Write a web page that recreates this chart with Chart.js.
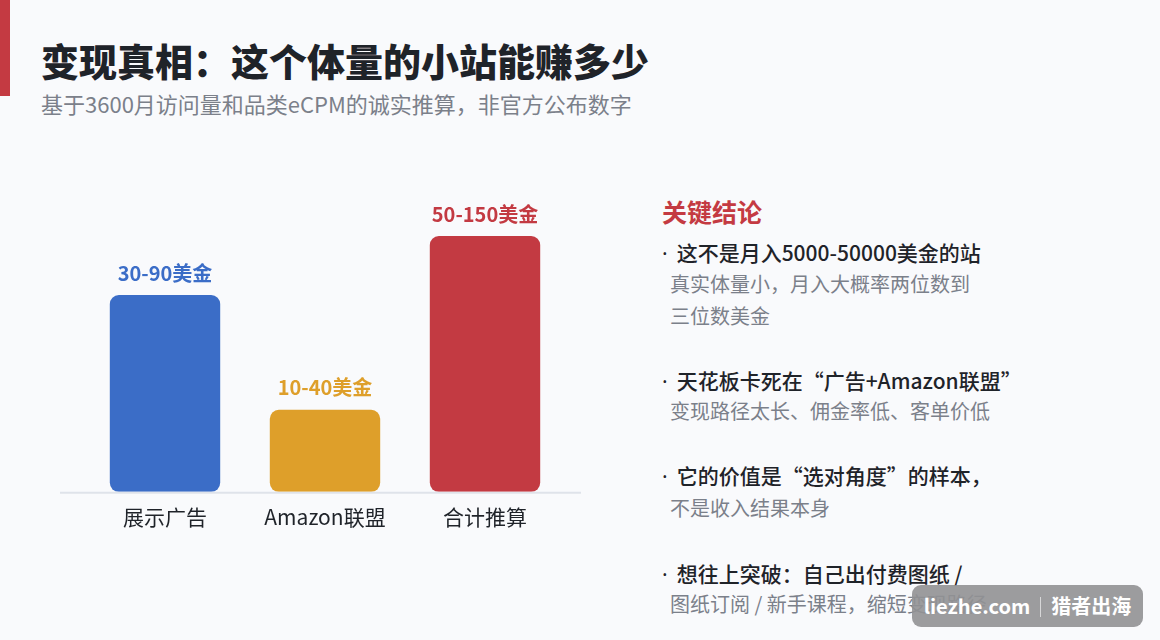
<!DOCTYPE html>
<html>
<head>
<meta charset="utf-8">
<script src="https://cdn.jsdelivr.net/npm/chart.js@4/dist/chart.umd.min.js"></script>
<style>
  html, body { margin: 0; padding: 0; }
  body {
    width: 1160px; height: 640px; overflow: hidden; position: relative;
    background: #f9fafc;
    font-family: "Noto Sans CJK SC", "Noto Sans", sans-serif;
  }
  .accent { position: absolute; left: 0; top: 0; width: 10px; height: 96px; background: #c43a42; }
  h1 { position: absolute; left: 41px; top: 35px; margin: 0; font-size: 38px; font-weight: 900; color: #1f2329; line-height: 50px; }
  .sub { position: absolute; left: 41px; top: 88px; font-size: 22px; color: #7b808a; line-height: 30px; }
  #wrap { position: absolute; left: 40px; top: 150px; width: 560px; height: 400px; }
  .panel { position: absolute; left: 662px; top: 0; }
  .panel div { position: absolute; white-space: nowrap; line-height: 30px; }
  .head { font-size: 25px; font-weight: 700; color: #c43a42; }
  .b { font-size: 21px; font-weight: 500; color: #1f2329; }
  .b i { font-style: normal; font-weight: 400; font-family: "Noto Sans"; margin-right: 9px; }
  .g { font-size: 20px; color: #7b808a; left: 8px; }
  .wm { position: absolute; left: 912px; top: 585px; width: 231px; height: 42px; border-radius: 9px;
        background: rgba(145,145,148,0.9); color: #fff; font-weight: 700; font-size: 20px;
        line-height: 42px; text-align: center; white-space: nowrap; }
  .wm span { display: inline-block; width: 1px; height: 20px; background: rgba(255,255,255,0.6); margin: 0 10px; vertical-align: -3px; }
</style>
</head>
<body>
<div class="accent"></div>
<h1>变现真相：这个体量的小站能赚多少</h1>
<div class="sub">基于3600月访问量和品类eCPM的诚实推算，非官方公布数字</div>
<div id="wrap"><canvas id="myChart"></canvas></div>
<div class="panel">
  <div class="head" style="top:196px">关键结论</div>
  <div class="b" style="top:237px"><i>·</i>这不是月入5000-50000美金的站</div>
  <div class="g" style="top:269px">真实体量小，月入大概率两位数到</div>
  <div class="g" style="top:301px">三位数美金</div>
  <div class="b" style="top:365px"><i>·</i>天花板卡死在“广告+Amazon联盟”</div>
  <div class="g" style="top:396px">变现路径太长、佣金率低、客单价低</div>
  <div class="b" style="top:460px"><i>·</i>它的价值是“选对角度”的样本，</div>
  <div class="g" style="top:493px">不是收入结果本身</div>
  <div class="b" style="top:558px"><i>·</i>想往上突破：自己出付费图纸 /</div>
  <div class="g" style="top:589px">图纸订阅 / 新手课程，缩短变现路径</div>
</div>
<div class="wm">liezhe.com<span></span>猎者出海</div>

<script>
var categories = ["展示广告", "Amazon联盟", "合计推算"];
var barValues = [60, 25, 78];
var rangeLabels = ["30-90美金", "10-40美金", "50-150美金"];
var barColors = ["#3b6dc7", "#de9f2a", "#c33a42"];

// 柱子上方的区间标签
var valueLabels = {
    id: "valueLabels",
    afterDatasetsDraw: function (chart) {
        var ctx = chart.ctx;
        var meta = chart.getDatasetMeta(0);
        ctx.save();
        ctx.font = "bold 20px 'Noto Sans CJK SC'";
        ctx.textAlign = "center";
        ctx.textBaseline = "bottom";
        meta.data.forEach(function (bar, i) {
            ctx.fillStyle = barColors[i];
            ctx.fillText(rangeLabels[i], bar.x, bar.y - 12);
        });
        ctx.restore();
    }
};

// 底部基线，比绘图区略宽
var baseLine = {
    id: "baseLine",
    beforeDatasetsDraw: function (chart) {
        var ctx = chart.ctx;
        var y = chart.scales.y.getPixelForValue(0);
        ctx.save();
        ctx.strokeStyle = "#dfe3ea";
        ctx.lineWidth = 2;
        ctx.beginPath();
        ctx.moveTo(chart.chartArea.left - 25, y + 1);
        ctx.lineTo(chart.chartArea.right + 16, y + 1);
        ctx.stroke();
        ctx.restore();
    }
};

var ctx = document.getElementById("myChart");
var chart = new Chart(ctx, {
    type: "bar",
    data: {
        labels: categories,
        datasets: [{
            data: barValues,
            backgroundColor: barColors,
            borderRadius: 9,
            borderSkipped: false,
            barPercentage: 0.69,
            categoryPercentage: 1
        }]
    },
    options: {
        responsive: true,
        maintainAspectRatio: false,
        animation: false,
        layout: { padding: { left: 45, right: 35, top: 14, bottom: 15 } },
        plugins: { legend: { display: false }, tooltip: { enabled: false } },
        scales: {
            x: {
                grid: { display: false },
                border: { display: false },
                ticks: { color: "#1f2329", font: { size: 21, family: "Noto Sans CJK SC" }, padding: 5 }
            },
            y: {
                display: false,
                min: 0,
                max: 100
            }
        }
    },
    plugins: [valueLabels, baseLine]
});
</script>
</body>
</html>
